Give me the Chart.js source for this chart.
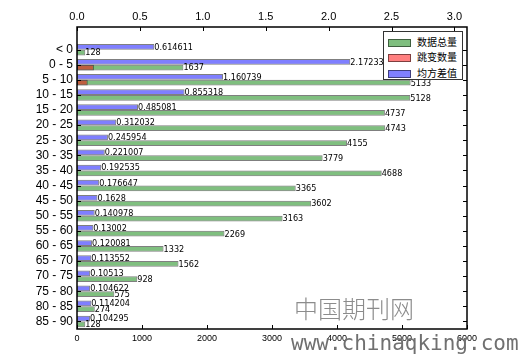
<!DOCTYPE html>
<html><head><meta charset="utf-8">
<script src="https://cdn.jsdelivr.net/npm/chart.js@4"></script>
<style>
html,body{margin:0;padding:0;background:#fff;}
#wrap{position:relative;width:522px;height:362px;overflow:hidden;background:#fff;}
#c{position:absolute;left:0;top:0;}
#legend{position:absolute;left:383px;top:31px;width:78px;height:47px;border:1px solid #333;background:#fff;font:10px "Noto Sans CJK SC",sans-serif;color:#000;}
.li{position:absolute;left:4px;height:10px;width:74px;}
.sw{position:absolute;left:0;top:1px;width:21px;height:6px;}
.lt{position:absolute;left:29px;top:-3px;white-space:nowrap;line-height:14px;}
#wm1{position:absolute;left:294px;top:290px;font:24px "Noto Sans CJK SC",sans-serif;font-weight:300;color:#8c8c8c;letter-spacing:0px;}
#wm2{position:absolute;left:291px;top:331px;font:21px "DejaVu Sans Mono",monospace;color:#707070;white-space:nowrap;}
</style></head>
<body><div id="wrap"><canvas id="c" width="522" height="362"></canvas><div id="legend"></div><div id="wm1">中国期刊网</div><div id="wm2">www.chinaqking.com</div></div>
<script>
const categories = ['< 0','0 - 5','5 - 10','10 - 15','15 - 20','20 - 25','25 - 30','30 - 35','35 - 40','40 - 45','45 - 50','50 - 55','55 - 60','60 - 65','65 - 70','70 - 75','75 - 80','80 - 85','85 - 90'];
const totalCounts = [128,1637,5133,5128,4737,4743,4155,3779,4688,3365,3602,3163,2269,1332,1562,928,575,274,128];
const jumpCounts = [0,260,165,0,0,0,0,0,0,0,0,0,0,0,0,0,0,0,0];
const stdValues = [0.614611,2.172339,1.160739,0.855318,0.485081,0.312032,0.245954,0.221007,0.192535,0.176647,0.1628,0.140978,0.13002,0.120081,0.113552,0.10513,0.104622,0.114204,0.104295];
const bottomTickValues = [0,1000,2000,3000,4000,5000,6000];
const topTickValues = [0.0,0.5,1.0,1.5,2.0,2.5,3.0];
const seriesNames = ['数据总量','跳变数量','均方差值'];

const GREEN='rgba(0,128,0,0.5)', RED='rgba(255,0,0,0.5)', BLUE='rgba(0,0,255,0.5)', EDGE='rgba(0,0,0,0.5)';
const labels = [''].concat(categories);
const pad = arr => [null].concat(arr);

const valueFont = '9px "Liberation Sans Narrow","DejaVu Sans Condensed","Liberation Sans",sans-serif';

const decorPlugin = {
  id:'decor',
  afterDatasetsDraw(chart){
    const ctx = chart.ctx, a = chart.chartArea;
    const sx = chart.scales.x, sx2 = chart.scales.x2, sy = chart.scales.y;
    ctx.save();
    ctx.strokeStyle = '#000';
    ctx.lineWidth = 1;
    ctx.beginPath();
    const L=4;
    sx.ticks.forEach((t,i)=>{const p=Math.round(sx.getPixelForTick(i))+0.5; ctx.moveTo(p,a.bottom); ctx.lineTo(p,a.bottom-L);});
    sx2.ticks.forEach((t,i)=>{const p=Math.round(sx2.getPixelForTick(i))+0.5; ctx.moveTo(p,a.top); ctx.lineTo(p,a.top+L);});
    for(let i=1;i<labels.length;i++){const p=Math.round(sy.getPixelForTick(i))+0.5; ctx.moveTo(a.left,p); ctx.lineTo(a.left+L,p); ctx.moveTo(a.right,p); ctx.lineTo(a.right-L,p);}
    ctx.stroke();
    ctx.lineWidth = 1.5;
    ctx.strokeRect(a.left, a.top, a.right-a.left, a.bottom-a.top);
    ctx.font = valueFont;
    ctx.fillStyle = '#000';
    ctx.textAlign = 'left';
    ctx.textBaseline = 'middle';
    [0,2].forEach(di=>{
      const meta = chart.getDatasetMeta(di);
      const data = chart.data.datasets[di].data;
      meta.data.forEach((el,i)=>{
        const v = data[i];
        if(v===null || v===undefined) return;
        ctx.fillText(String(v), el.x, el.y+0.5);
      });
    });
    ctx.restore();
  }
};

const chart = new Chart(document.getElementById('c'), {
  type:'bar',
  data:{
    labels: labels,
    datasets:[
      {label:seriesNames[0], data:pad(totalCounts), xAxisID:'x', stack:'g', order:2, backgroundColor:GREEN, borderColor:EDGE, borderWidth:1, borderSkipped:false},
      {label:seriesNames[1], data:pad(jumpCounts), xAxisID:'x', stack:'g', order:1, backgroundColor:RED, borderColor:EDGE, borderWidth:1, borderSkipped:false},
      {label:seriesNames[2], data:pad(stdValues), xAxisID:'x2', stack:'b', order:0, backgroundColor:BLUE, borderColor:EDGE, borderWidth:1, borderSkipped:false}
    ]
  },
  options:{
    indexAxis:'y',
    responsive:false,
    animation:false,
    devicePixelRatio:1,
    categoryPercentage:0.76,
    barPercentage:1.0,
    layout:{padding:{left:0,right:55,top:0,bottom:0}},
    plugins:{legend:{display:false},tooltip:{enabled:false}},
    scales:{
      y:{
        type:'category',
        grid:{display:false,drawTicks:false}, border:{display:false},
        ticks:{padding:4,color:'#000',font:{family:'"Liberation Sans",sans-serif',size:12},autoSkip:false},
        afterFit(s){s.width=77;}
      },
      x:{
        position:'bottom', min:0, max:6000, stacked:false,
        grid:{display:false,drawTicks:false}, border:{display:false},
        afterBuildTicks(s){s.ticks = bottomTickValues.map(v=>({value:v}));},
        ticks:{padding:4,color:'#000',font:{family:'"Liberation Sans",sans-serif',size:9},callback:(v)=>String(v),maxRotation:0,autoSkip:false},
        afterFit(s){s.height=33;}
      },
      x2:{
        position:'top', min:0, max:3.1, stacked:false,
        grid:{display:false,drawTicks:false}, border:{display:false},
        afterBuildTicks(s){s.ticks = topTickValues.map(v=>({value:v}));},
        ticks:{padding:3,color:'#000',font:{family:'"Liberation Sans",sans-serif',size:11},callback:(v)=>Number(v).toFixed(1),maxRotation:0,autoSkip:false},
        afterFit(s){s.height=27;}
      }
    }
  },
  plugins:[decorPlugin]
});

const lg = document.getElementById('legend');
const tops = [6,21,37];
chart.data.datasets.forEach((ds,i)=>{
  const it = document.createElement('div'); it.className='li'; it.style.top = tops[i]+'px';
  const sw = document.createElement('div'); sw.className='sw'; sw.style.background = ds.backgroundColor; sw.style.border = '1px solid '+ds.borderColor;
  const t = document.createElement('div'); t.className='lt'; t.textContent = ds.label;
  it.appendChild(sw); it.appendChild(t); lg.appendChild(it);
});
</script></body></html>
